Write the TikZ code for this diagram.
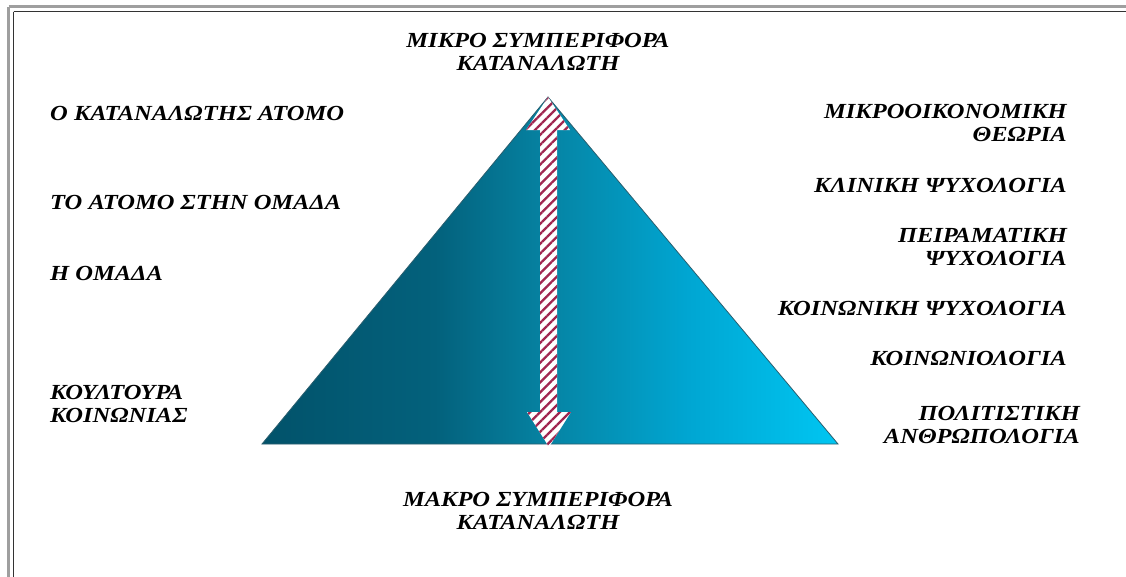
\documentclass[tikz,border=0pt]{standalone}
\usepackage{fontspec}
\setmainfont[FakeStretch=1.14]{Liberation Serif}
\usetikzlibrary{patterns.meta,calc}
\definecolor{c1}{HTML}{02526A}
\definecolor{c2}{HTML}{03617C}
\definecolor{c3}{HTML}{0684A4}
\definecolor{c4}{HTML}{00A6D2}
\definecolor{c5}{HTML}{00C6F2}
\definecolor{stripe}{HTML}{A02650}
\definecolor{edge}{HTML}{2A5E6E}
\pgfdeclarehorizontalshading{tri}{100bp}{color(0bp)=(c1); color(25bp)=(c1); color(40bp)=(c2); color(50bp)=(c3); color(62bp)=(c4); color(75bp)=(c5); color(100bp)=(c5)}
\tikzset{
  lbl/.style={font=\fontsize{21.5}{23}\selectfont\bfseries\itshape, inner sep=0pt},
  lft/.style={lbl, anchor=west, align=left},
  rgt/.style={lbl, anchor=east, align=right},
  ctr/.style={lbl, align=center},
}
\begin{document}
\begin{tikzpicture}[x=1pt,y=-1pt]
\useasboundingbox (0,0) rectangle (1126,576);
\fill[white] (0,0) rectangle (1126,576);
% frame
\draw[gray!75, line width=2.5pt] (8.5,6.5) -- (8.5,600) (8.5,6.5) -- (1140,6.5);
\draw[gray!40!black, line width=1.2pt] (13.5,11.5) -- (13.5,600) (13.5,11.5) -- (1140,11.5);
% triangle
\coordinate (apex) at (548,97);
\coordinate (bl) at (262,444);
\coordinate (br) at (838,444);
\coordinate (bm) at (549,447);
\shade[shading=tri, draw=edge, line width=0.8pt] (bl) -- (apex) -- (br) -- cycle;
% double arrow
\path[fill=white] (apex) -- ++(22,33) -- ++(-13,0) |- ($(bm)+(9,-35)$) -- ++(13,0) -- (bm) -- ++(-22,-35) -- ++(13,0) |- ($(apex)+(-9,33)$) -- ++(-13,0) -- cycle;
\path[pattern={Lines[angle=45, distance=7pt, line width=2.3pt]}, pattern color=stripe] (apex) -- ++(22,33) -- ++(-13,0) |- ($(bm)+(9,-35)$) -- ++(13,0) -- (bm) -- ++(-22,-35) -- ++(13,0) |- ($(apex)+(-9,33)$) -- ++(-13,0) -- cycle;
% labels
\node[ctr] (top) at (538,52) {ΜΙΚΡΟ ΣΥΜΠΕΡΙΦΟΡΑ\\ΚΑΤΑΝΑΛΩΤΗ};
\node[ctr] (bot) at (538,511) {ΜΑΚΡΟ ΣΥΜΠΕΡΙΦΟΡΑ\\ΚΑΤΑΝΑΛΩΤΗ};
\node[lft] (l1) at (50,113) {Ο ΚΑΤΑΝΑΛΩΤΗΣ ΑΤΟΜΟ};
\node[lft] (l2) at (50,202) {ΤΟ ΑΤΟΜΟ ΣΤΗΝ ΟΜΑΔΑ};
\node[lft] (l3) at (50,273) {Η ΟΜΑΔΑ};
\node[lft] (l4) at (50,404) {ΚΟΥΛΤΟΥΡΑ\\ΚΟΙΝΩΝΙΑΣ};
\node[rgt] (r1) at (1067,123) {ΜΙΚΡΟΟΙΚΟΝΟΜΙΚΗ\\ΘΕΩΡΙΑ};
\node[rgt] (r2) at (1067,185) {ΚΛΙΝΙΚΗ ΨΥΧΟΛΟΓΙΑ};
\node[rgt] (r3) at (1067,247) {ΠΕΙΡΑΜΑΤΙΚΗ\\ΨΥΧΟΛΟΓΙΑ};
\node[rgt] (r4) at (1067,308) {ΚΟΙΝΩΝΙΚΗ ΨΥΧΟΛΟΓΙΑ};
\node[rgt] (r5) at (1067,358) {ΚΟΙΝΩΝΙΟΛΟΓΙΑ};
\node[rgt] (r6) at (1080,425) {ΠΟΛΙΤΙΣΤΙΚΗ\\ΑΝΘΡΩΠΟΛΟΓΙΑ};
\end{tikzpicture}
\end{document}
